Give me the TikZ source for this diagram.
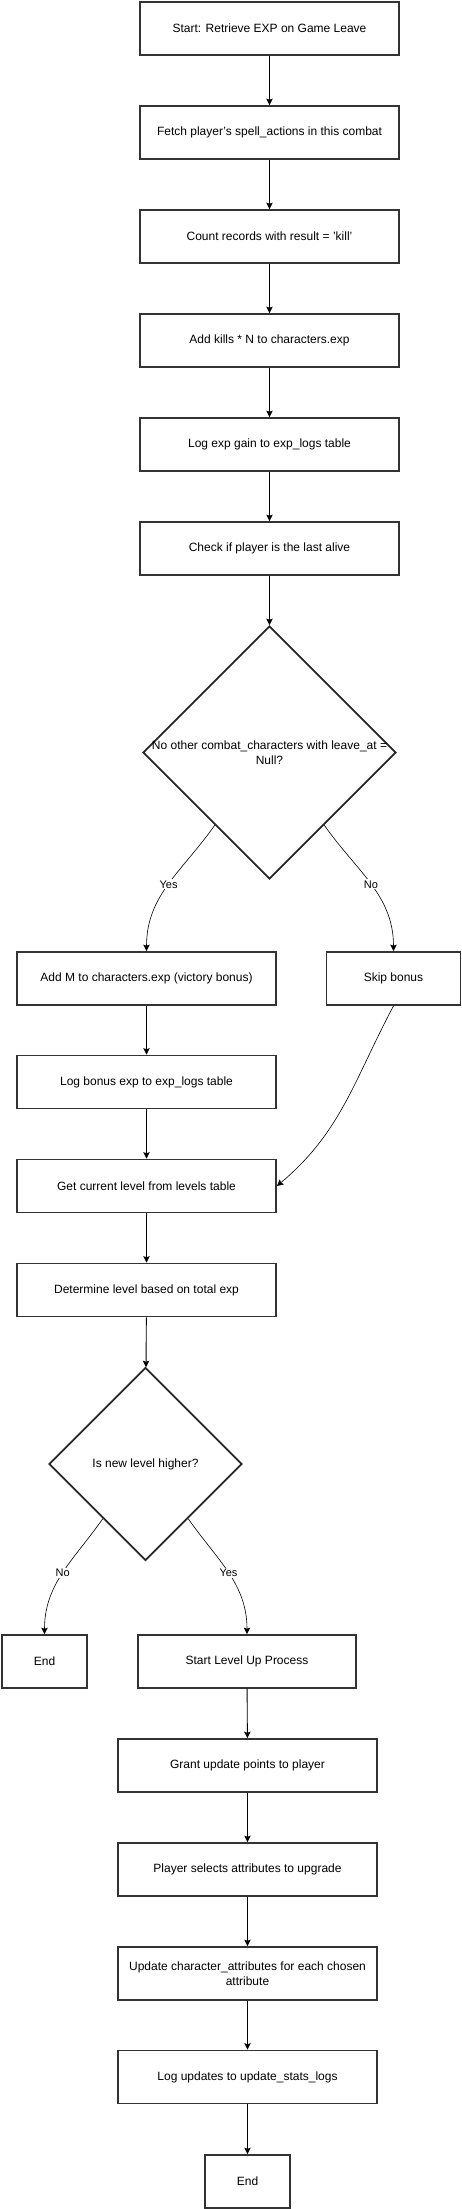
\documentclass[tikz,border=0pt]{standalone}
\usepackage{fontspec}
\setmainfont{Liberation Sans}
\usetikzlibrary{arrows.meta}
\usetikzlibrary{shapes.geometric}

\begin{document}
\begin{tikzpicture}[x=1pt, y=1pt, >={Stealth[length=6.5pt, width=6.5pt, inset=1.2pt]},
  stepbox/.style={draw=black!80, line width=1.8pt, minimum width=259pt, minimum height=53pt,
    inner sep=0pt, align=center, font=\fontsize{12}{14.5}\selectfont},
  decision/.style={draw=black!85, line width=1.8pt, diamond, aspect=1, inner sep=0pt},
  answer/.style={fill=white, inner sep=1pt, font=\fontsize{11}{13}\selectfont}]
  \useasboundingbox (0, 0) rectangle (461, -2209);

  % main column
  \node[stepbox] at (269.5, -28.5)  (start)  {Start: Retrieve EXP on Game Leave};
  \node[stepbox] at (269.5, -132.5) (fetch)  {Fetch player's spell\_actions in this combat};
  \node[stepbox] at (269.5, -236.5) (count)  {Count records with result = 'kill'};
  \node[stepbox] at (269.5, -340.5) (addexp) {Add kills * N to characters.exp};
  \node[stepbox] at (269.5, -444.5) (logexp) {Log exp gain to exp\_logs table};
  \node[stepbox] at (269.5, -548.5) (check)  {Check if player is the last alive};

  % last alive?
  \node[decision, minimum width=253pt, minimum height=253pt,
    label={[align=center, font=\fontsize{12}{14.5}\selectfont]center:{No other combat\_characters with leave\_at =\\Null?}}]
    at (269.5, -752.5) (alive) {};

  % bonus branch
  \node[stepbox] at (146.5, -978.5) (bonus) {Add M to characters.exp (victory bonus)};
  \node[stepbox, minimum width=134pt] at (393.5, -978.5) (skip) {Skip bonus};
  \node[stepbox] at (146.5, -1082) (logbonus) {Log bonus exp to exp\_logs table};
  \node[stepbox] at (146.5, -1186) (curlvl)   {Get current level from levels table};
  \node[stepbox] at (146.5, -1290) (newlvl)   {Determine level based on total exp};

  % higher level?
  \node[decision, minimum width=193pt, minimum height=193pt,
    label={[font=\fontsize{12}{14.5}\selectfont]center:Is new level higher?}]
    at (145.5, -1464) (higher) {};

  % level up
  \node[stepbox, minimum width=85pt]  at (44.5, -1661.5)  (endA)    {End};
  \node[stepbox, minimum width=218pt] at (247, -1661.5)   (levelup) {Start Level Up Process};
  \node[stepbox] at (247.5, -1765.5) (grant)  {Grant update points to player};
  \node[stepbox] at (247.5, -1869.5) (select) {Player selects attributes to upgrade};
  \node[stepbox] at (247.5, -1973.5) (update) {Update character\_attributes for each chosen\\attribute};
  \node[stepbox] at (247.5, -2077)   (logupd) {Log updates to update\_stats\_logs};
  \node[stepbox, minimum width=85pt] at (247.5, -2181.5) (endB) {End};

  % arrows
  \draw[->, line width=0.9pt] (start) edge (fetch) (fetch) edge (count) (count) edge (addexp)
    (addexp) edge (logexp) (logexp) edge (check) (check) edge (alive)
    (bonus) edge (logbonus) (logbonus) edge (curlvl) (curlvl) edge (newlvl) (newlvl) edge (higher)
    (levelup) edge (grant) (grant) edge (select) (select) edge (update) (update) edge (logupd)
    (logupd) edge (endB);
  \draw[->, line width=0.6pt] (alive.233) to[out=-125, in=90] node[answer] {Yes} (bonus.north);
  \draw[->, line width=0.6pt] (alive.307) to[out=-55, in=90] node[answer] {No} (skip.north);
  \draw[->, line width=0.6pt] (skip.south) to[out=-118, in=40] (curlvl.east);
  \draw[->, line width=0.6pt] (higher.232) to[out=-125, in=90] node[answer] {No} (endA.north);
  \draw[->, line width=0.6pt] (higher.308) to[out=-55, in=90] node[answer] {Yes} (levelup.north);

\end{tikzpicture}
\end{document}
